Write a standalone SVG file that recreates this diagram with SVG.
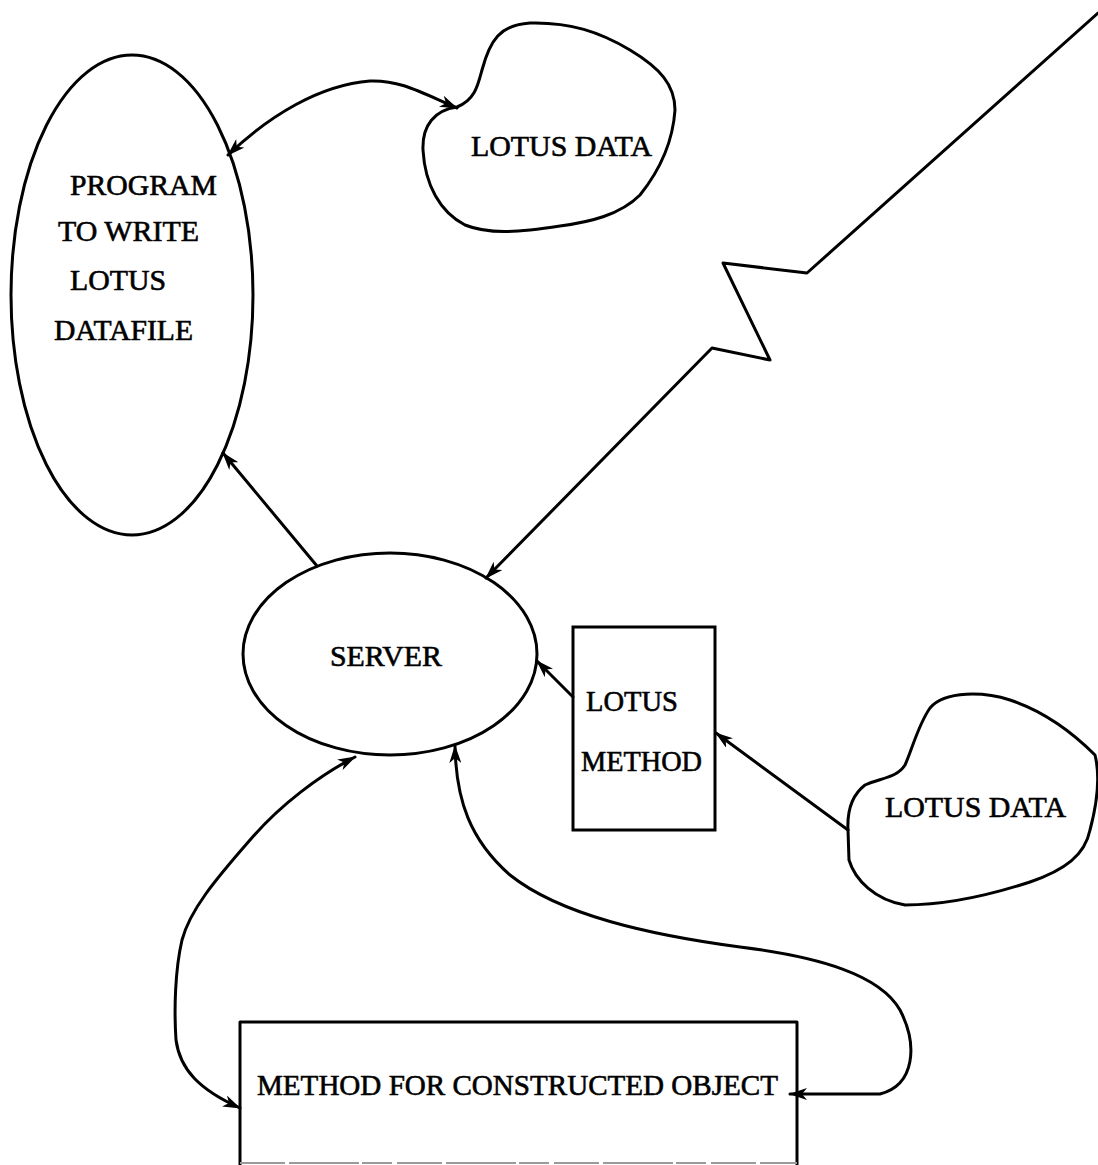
<svg xmlns="http://www.w3.org/2000/svg" width="1098" height="1165" viewBox="0 0 1098 1165">
<style>
.s{fill:none;stroke:#000;stroke-width:3;stroke-linejoin:round;stroke-linecap:round}
.n{fill:#fff;stroke:#000;stroke-width:3}
.t{font-family:"Liberation Serif","Times New Roman",serif;font-size:29px;fill:#000;stroke:#000;stroke-width:0.6}
</style>
<defs>
<marker id="ah" viewBox="0 0 18 12" refX="17" refY="6" markerWidth="18" markerHeight="12" markerUnits="userSpaceOnUse" orient="auto-start-reverse">
<path d="M0,0 L18,6 L0,12 L5,6 Z" fill="#000"/>
</marker>
</defs>
<rect width="1098" height="1165" fill="#fff"/>

<g id="program">
<ellipse class="n" cx="132" cy="295" rx="121" ry="240"/>
<text class="t" x="70" y="195" textLength="147" lengthAdjust="spacingAndGlyphs">PROGRAM</text>
<text class="t" x="58" y="241" textLength="141" lengthAdjust="spacingAndGlyphs">TO WRITE</text>
<text class="t" x="70" y="290" textLength="96" lengthAdjust="spacingAndGlyphs">LOTUS</text>
<text class="t" x="54" y="340" textLength="139" lengthAdjust="spacingAndGlyphs">DATAFILE</text>
</g>

<g id="lotus-data-top">
<path class="n" d="M457,107 C475,100 478,85 482,70 C490,40 500,25 530,23 C570,22 600,32 630,50 C660,68 675,85 675,110 C673,140 660,170 640,195 C620,215 590,222 560,226 C520,232 490,235 465,225 C440,212 425,185 423,150 C422,125 435,110 457,107 Z"/>
<text class="t" x="471" y="156" textLength="181" lengthAdjust="spacingAndGlyphs">LOTUS DATA</text>
</g>

<g id="server">
<ellipse class="n" cx="390" cy="654" rx="147" ry="101"/>
<text class="t" x="330" y="666" textLength="112" lengthAdjust="spacingAndGlyphs">SERVER</text>
</g>

<g id="lotus-method">
<rect class="n" x="573" y="627" width="142" height="203"/>
<text class="t" x="586" y="711" textLength="92" lengthAdjust="spacingAndGlyphs">LOTUS</text>
<text class="t" x="581" y="771" textLength="121" lengthAdjust="spacingAndGlyphs">METHOD</text>
</g>

<g id="lotus-data-bottom">
<path class="n" d="M848,830 C847,810 852,795 865,785 C880,778 897,778 905,765 C912,750 918,725 930,708 C945,690 985,692 1010,700 C1040,710 1070,730 1095,755 C1100,775 1098,800 1090,830 C1085,855 1065,870 1030,882 C990,895 945,905 905,905 C875,900 855,880 849,860 Z"/>
<text class="t" x="885" y="817" textLength="181" lengthAdjust="spacingAndGlyphs">LOTUS DATA</text>
</g>

<g id="constructed-object">
<rect x="240" y="1022" width="557" height="150" fill="#fff" stroke="none"/>
<path class="s" d="M240,1165 L240,1022 L797,1022 L797,1165" stroke-linecap="butt"/>
<line x1="240" y1="1163" x2="797" y2="1163" stroke="#9a9a9a" stroke-width="2" stroke-dasharray="45 4 70 3 30 5"/>
<text class="t" x="257" y="1095" textLength="521" lengthAdjust="spacingAndGlyphs">METHOD FOR CONSTRUCTED OBJECT</text>
</g>

<g id="connectors">
<path class="s" d="M228,155 C270,115 320,85 370,81 C400,80 420,92 457,108" marker-start="url(#ah)" marker-end="url(#ah)"/>
<path class="s" d="M1098,13 L807,273 L723,263 L770,360 L712,348 L486,578" marker-end="url(#ah)"/>
<path class="s" d="M317,566 L223,453" marker-end="url(#ah)"/>
<path class="s" d="M573,697 L537,661" marker-end="url(#ah)"/>
<path class="s" d="M848,830 L716,733" marker-end="url(#ah)"/>
<path class="s" d="M355,757 C320,775 280,805 250,840 C215,880 190,910 182,940 C175,970 174,1010 176,1040 C180,1070 200,1090 240,1108" marker-start="url(#ah)" marker-end="url(#ah)"/>
<path class="s" d="M455,746 C456,800 470,840 510,875 C560,915 650,935 740,947 C820,957 880,975 900,1010 C918,1045 915,1085 880,1094 L790,1094" marker-start="url(#ah)" marker-end="url(#ah)"/>
</g>
</svg>
